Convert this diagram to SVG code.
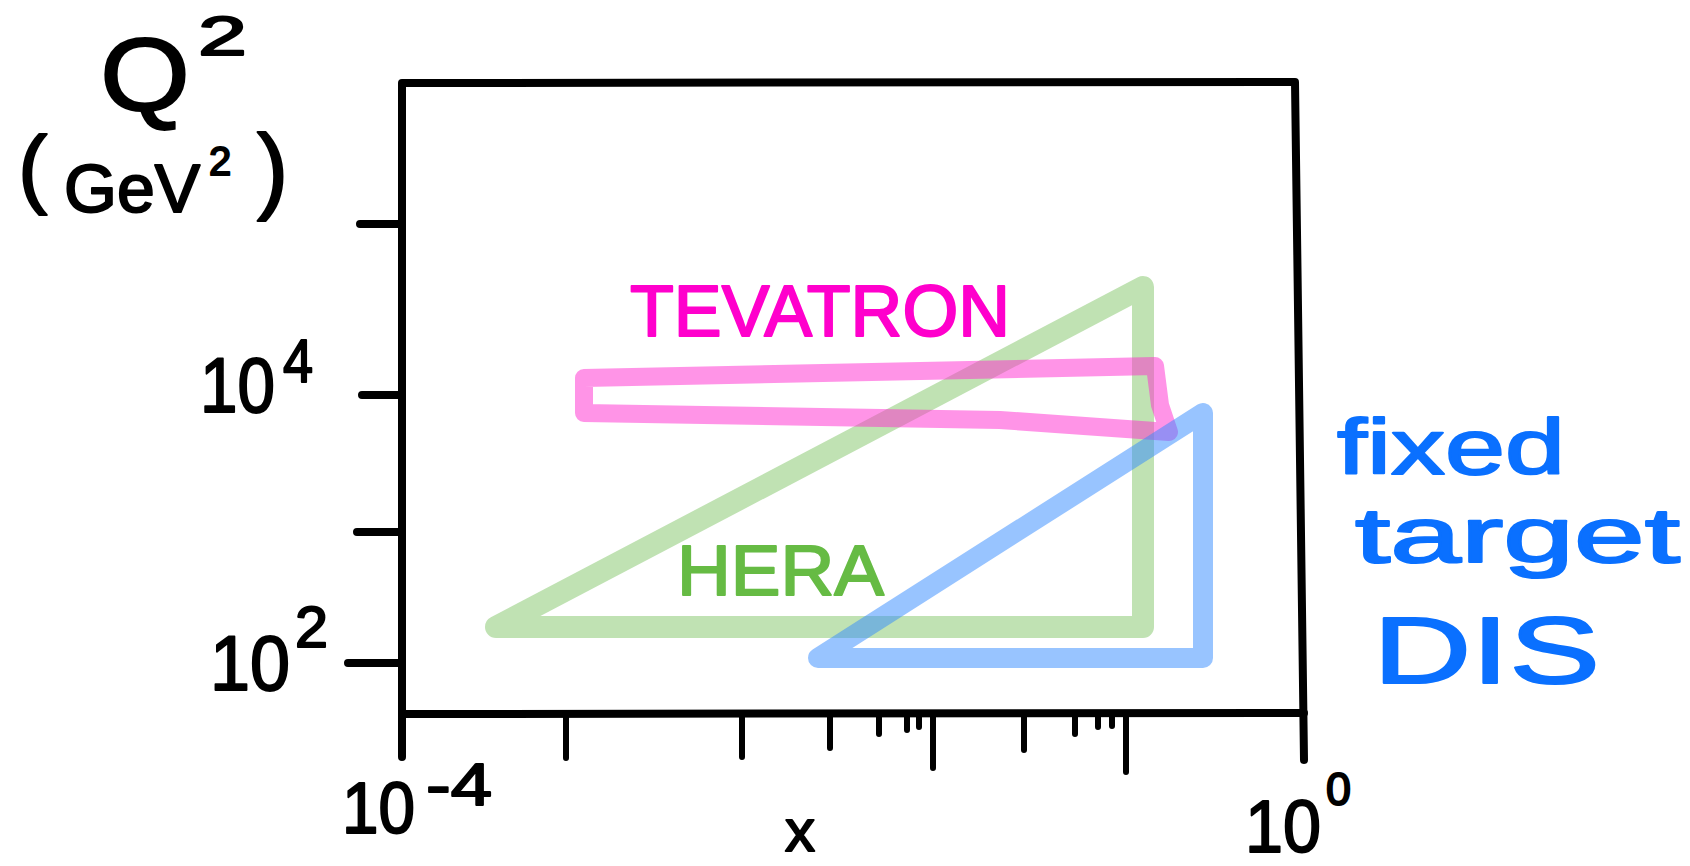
<svg xmlns="http://www.w3.org/2000/svg" width="1690" height="866" viewBox="0 0 1690 866">
<style>
.ax{stroke:#000;stroke-width:8;fill:none;stroke-linecap:round;stroke-linejoin:round}
.tk{stroke:#000;stroke-width:6;fill:none;stroke-linecap:round}
.k{font-family:"Liberation Sans",Arial,sans-serif;fill:#000;stroke:#000;stroke-width:2;stroke-linejoin:round}
.band{fill:none;stroke-linecap:round;stroke-linejoin:round;stroke-opacity:0.5}
.hand{font-family:"Liberation Sans",Arial,sans-serif;stroke-width:2;stroke-linejoin:round}
</style>
<rect width="1690" height="866" fill="#fff"/>
<g id="frame">
<path class="ax" d="M402,757 L402,83 L1295,82 L1304,760"/>
<path class="ax" d="M402,714 L1304,713"/>
</g>
<g id="y-ticks">
<path class="ax" d="M360,224 H402 M362,395 H402 M357,532 H402 M348,663 H402"/>
</g>
<g id="x-ticks">
<path class="tk" d="M566,714 V758 M742,714 V757 M830,714 V748 M879,714 V734 M907,714 V730 M919,714 V727 M933,714 V768 M1024,714 V750 M1075,714 V734 M1098,714 V727 M1112,714 V726 M1126,714 V772"/>
</g>
<g id="y-label">
<text class="k" x="100" y="110" font-size="104" textLength="90" lengthAdjust="spacingAndGlyphs">Q</text>
<text class="k" x="198" y="55" font-size="56" textLength="49" lengthAdjust="spacingAndGlyphs">2</text>
<text class="k"><tspan x="18" y="197" font-size="88">(</tspan><tspan x="64" y="212" font-size="68">GeV</tspan><tspan x="209" y="175" font-size="40">2</tspan><tspan x="257" y="201" font-size="94">)</tspan></text>
</g>
<g id="label-1e4">
<text class="k" x="200" y="412" font-size="78" textLength="75" lengthAdjust="spacingAndGlyphs">10</text>
<text class="k" x="283" y="382" font-size="62" textLength="30" lengthAdjust="spacingAndGlyphs">4</text>
</g>
<g id="label-1e2">
<text class="k" x="210" y="690" font-size="78" textLength="80" lengthAdjust="spacingAndGlyphs">10</text>
<text class="k" x="295" y="647" font-size="58" textLength="33" lengthAdjust="spacingAndGlyphs">2</text>
</g>
<g id="label-1e-4">
<text class="k" x="342" y="833" font-size="72" textLength="73" lengthAdjust="spacingAndGlyphs">10</text>
<text class="k" x="426" y="805" font-size="60" textLength="66" lengthAdjust="spacingAndGlyphs">-4</text>
</g>
<g id="label-1e0">
<text class="k" x="1245" y="852" font-size="75" textLength="76" lengthAdjust="spacingAndGlyphs">10</text>
<text class="k" x="1326" y="805" font-size="46" textLength="25" lengthAdjust="spacingAndGlyphs">0</text>
</g>
<g id="x-label">
<text class="k" x="785" y="851" font-size="60">x</text>
</g>
<g id="hera">
<path class="band" stroke="#81c567" stroke-width="22" d="M496,627 L1143,287 L1143,627 Z"/>
<text class="hand" x="677" y="595" font-size="70" textLength="207" lengthAdjust="spacingAndGlyphs" fill="#66bb44" stroke="#66bb44">HERA</text>
</g>
<g id="tevatron">
<path class="band" stroke="#ff2ad0" stroke-width="18" d="M584,378 L1155,366 L1160,405 L1169,432 L1000,420 L584,413 Z"/>
<text class="hand" x="630" y="336" font-size="72" textLength="380" lengthAdjust="spacingAndGlyphs" fill="#ff00cc" stroke="#ff00cc">TEVATRON</text>
</g>
<g id="fixed-target">
<path class="band" stroke="#3189ff" stroke-width="20" d="M818,658 L1203,413 L1203,658 Z"/>
<text class="hand" x="1337" y="474" font-size="78" textLength="228" lengthAdjust="spacingAndGlyphs" fill="#0a70ff" stroke="#0a70ff">fixed</text>
<text class="hand" x="1355" y="562" font-size="78" textLength="325" lengthAdjust="spacingAndGlyphs" fill="#0a70ff" stroke="#0a70ff">target</text>
<text class="hand" x="1373" y="683" font-size="95" textLength="227" lengthAdjust="spacingAndGlyphs" fill="#0a70ff" stroke="#0a70ff">DIS</text>
</g>
</svg>
